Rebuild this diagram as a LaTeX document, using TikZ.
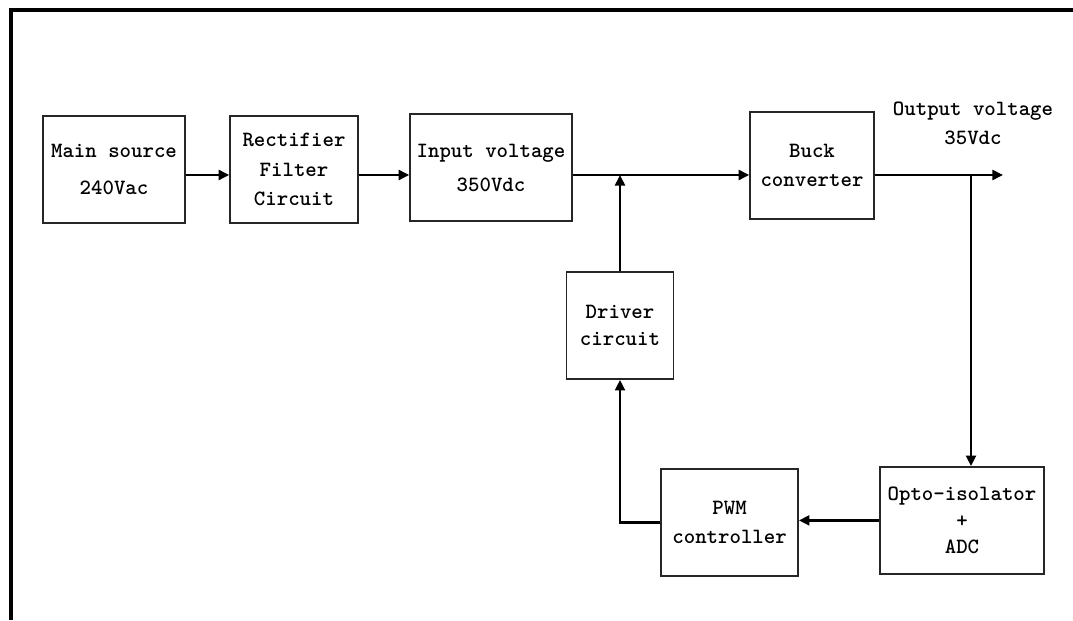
\documentclass[tikz,border=0pt]{standalone}
\usetikzlibrary{arrows.meta}

\begin{document}
\begin{tikzpicture}[
		b/.style = {rectangle, draw=black!85, line width=1.1pt, minimum height=2.675cm, inner sep=0pt, align=center, font=\ttfamily\bfseries\fontsize{15.5}{19}\selectfont},
		t/.style = {align=center, inner sep=0pt, font=\ttfamily\bfseries\fontsize{15.5}{19}\selectfont},
		r/.style = {-{Triangle[length=7.5pt, width=7pt]}, line width=2pt},
		]
		\useasboundingbox (0, 0) rectangle (26.825, 15.5);
		
		%Frame
		\draw[line width=2.2pt]	(0.275, 0) -- (0.275, 15.25) -- (26.825, 15.25);
		
		%Nodes
		\node[b, minimum width=3.55cm]	(main)		at	(2.85, 11.26)		{Main source\\[7pt]240Vac};
		\node[b, minimum width=3.2cm]	(rect)		at	(7.35, 11.26)		{Rectifier\\[2pt]Filter\\[2pt]Circuit};
		\node[b, minimum width=4.05cm]	(input)		at	(12.275, 11.31)		{Input voltage\\[5pt]350Vdc};
		\node[b, minimum width=3.1cm]	(buck)		at	(20.3, 11.36)		{Buck\\[2pt]converter};
		\node[b, minimum width=2.675cm]	(driver)	at	(15.5, 7.36)		{Driver\\circuit};
		\node[b, minimum width=3.425cm]	(pwm)		at	(18.24, 2.44)		{PWM\\[2pt]controller};
		\node[b, minimum width=4.1cm]	(opto)		at	(24.05, 2.49)		{Opto-isolator\\+\\ADC};
		\node[t]						(outlbl)	at	(24.325, 12.42)		{Output voltage\\[2pt]35Vdc};
		
		\coordinate	(bus)	at	(0, 11.125);
		\coordinate	(out)	at	(25.075, 11.125);
		\coordinate	(tap)	at	(24.275, 11.125);
		
		%Lines
		\draw[r]	(main.east |- bus)		--	(rect.west |- bus);
		\draw[r]	(rect.east |- bus)		--	(input.west |- bus);
		\draw[r]	(input.east |- bus)		--	(buck.west |- bus);
		\draw[r]	(buck.east |- bus)		--	(out);
		\draw[r]	(tap)					--	(tap |- opto.north);
		\draw[r]	(opto.west)				--	(opto.west -| pwm.east);
		\draw[r]	(pwm.west)				-|	(driver.south);
		\draw[r]	(driver.north)			--	(driver.north |- bus);
	\end{tikzpicture}
\end{document}
